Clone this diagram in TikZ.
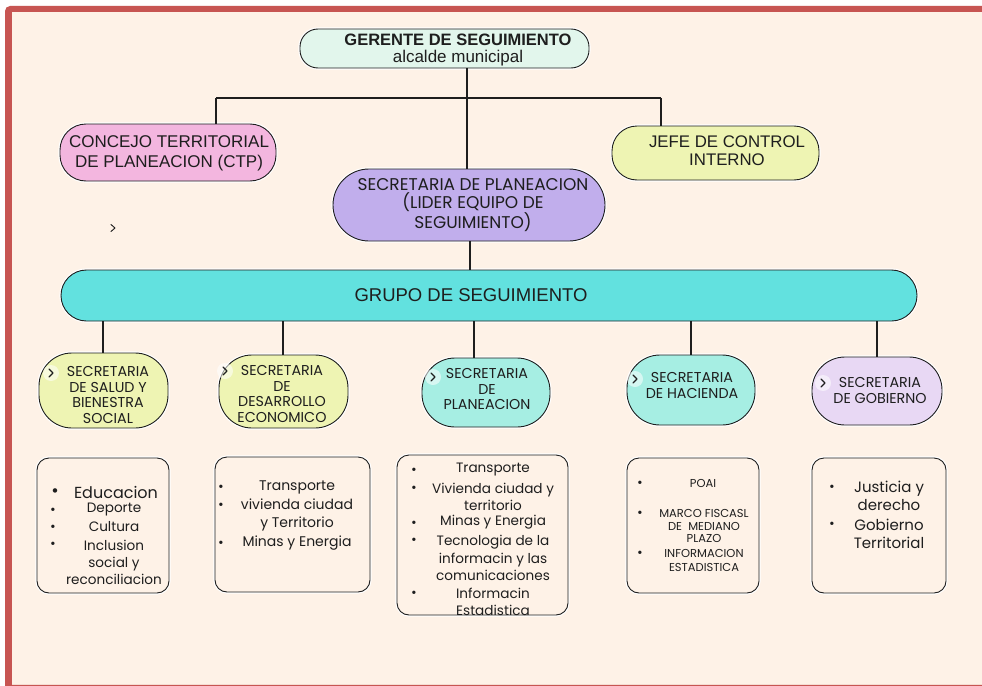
\documentclass[tikz,border=0pt]{standalone}
\usepackage{fontspec}
\setmainfont{Lato}
\newfontfamily\arialf{Liberation Sans}
\newfontfamily\popf{Poppins}
\definecolor{bgc}{HTML}{FEF2E7}
\definecolor{redc}{HTML}{C75552}
\definecolor{mint}{HTML}{E2F6EC}
\definecolor{pinkc}{HTML}{F3B6DF}
\definecolor{yelc}{HTML}{EEF4B3}
\definecolor{purc}{HTML}{C1AEEC}
\definecolor{cyanc}{HTML}{62E1DF}
\definecolor{lcyan}{HTML}{A6EEE3}
\definecolor{lavc}{HTML}{E8D8F4}
\definecolor{ink}{HTML}{1E1E1E}
\definecolor{edgec}{HTML}{F5DCD2}
\tikzset{
  box/.style={draw=ink, line width=0.9pt, rounded corners=#1, inner sep=0pt,
    preaction={draw=white, line width=3.2pt}},
  txt/.style={align=center, inner sep=0pt, text=ink},
  lt/.style={align=center, inner sep=0pt, text=ink, font=\popf\fontsize{13.6}{17.5}\selectfont},
  bu/.style={inner sep=0pt, text=ink, font=\fontsize{9}{9}\selectfont},
  chev/.style={circle, fill=white, fill opacity=0.55, minimum size=16pt, inner sep=0pt},
  chevmark/.style={draw=ink, line width=1.2pt, line cap=round, line join=round},
  conn/.style={draw=ink, line width=1.1pt},
  secfont/.style={font=\popf\fontsize{14.3}{15.6}\selectfont}
}
\begin{document}
\begin{tikzpicture}[x=1pt,y=-1pt]
\useasboundingbox (0,0) rectangle (982,685);
\fill[white] (0,0) rectangle (982,685);
\fill[redc, rounded corners=5pt] (5,6) rectangle (1000,700);
\fill[bgc] (12,12) rectangle (982,685);
\draw[edgec, line width=1pt] (12,684.5) -- (982,684.5);

% top nodes
\node[box=18pt, fill=mint, minimum width=289pt, minimum height=39pt] (ger) at (444.5,48.5) {};
\node[txt, font=\arialf\fontsize{17}{17.5}\selectfont] (gert) at (458,50) {{\bfseries\fontsize{16.5}{17.5}\selectfont GERENTE DE SEGUIMIENTO}\\alcalde municipal};

\node[box=26pt, fill=pinkc, minimum width=216pt, minimum height=57pt] (ctp) at (168,152.5) {};
\node[txt, font=\arialf\fontsize{17}{20}\selectfont] (ctpt) at (169,153) {CONCEJO TERRITORIAL\\DE PLANEACION (CTP)};

\node[box=25pt, fill=yelc, minimum width=207pt, minimum height=54pt] (jefe) at (715.5,153) {};
\node[txt, font=\arialf\fontsize{16.8}{18}\selectfont] (jefet) at (727,151) {JEFE DE CONTROL\\INTERNO};

\node[box=36pt, fill=purc, minimum width=272pt, minimum height=72pt] (lider) at (469,205) {};
\node[txt, font=\popf\fontsize{17}{18.5}\selectfont] (lidert) at (473,205) {SECRETARIA DE PLANEACION\\(LIDER EQUIPO DE\\SEGUIMIENTO)};

\coordinate (loose) at (113,228);
\draw[chevmark, line width=0.9pt] (loose) ++(-2,-3.5) -- ++(4,3.5) -- ++(-4,3.5);

\node[box=25.5pt, fill=cyanc, minimum width=856pt, minimum height=51pt] (gru) at (489,295.5) {};
\node[txt, font=\arialf\fontsize{18.5}{18.5}\selectfont] (grut) at (471,295) {GRUPO DE SEGUIMIENTO};

% secretarias
\node[box=33pt, fill=yelc, minimum width=129pt, minimum height=75pt] (sal) at (103.5,390.5) {};
\node[txt, secfont] (salt) at (108,395) {SECRETARIA\\DE SALUD Y\\BIENESTRA\\SOCIAL};
\node[chev] (salc) at (51,373) {};

\node[box=33pt, fill=yelc, minimum width=129pt, minimum height=73pt] (des) at (283.5,391.5) {};
\node[txt, secfont] (dest) at (282,394) {SECRETARIA\\DE\\DESARROLLO\\ECONOMICO};
\node[chev] (desc) at (225,371) {};

\node[box=33pt, fill=lcyan, minimum width=128pt, minimum height=69pt] (pla) at (486,392.5) {};
\node[txt, secfont] (plat) at (487,389) {SECRETARIA\\DE\\PLANEACION};
\node[chev] (plac) at (433,377) {};

\node[box=33pt, fill=lcyan, minimum width=128pt, minimum height=70pt] (hac) at (691,390) {};
\node[txt, secfont] (hact) at (692,385.5) {SECRETARIA\\DE HACIENDA};
\node[chev] (hacc) at (635,379) {};

\node[box=33pt, fill=lavc, minimum width=130pt, minimum height=68pt] (gob) at (877,391) {};
\node[txt, secfont] (gobt) at (880,390.5) {SECRETARIA\\DE GOBIERNO};
\node[chev] (gobc) at (823,383) {};

\foreach \c in {salc,desc,plac,hacc,gobc}
  \draw[chevmark] (\c.center) ++(-2,-4) -- ++(4,4) -- ++(-4,4);

% connectors
\coordinate (jt) at (467,98);
\coordinate (jl) at (216,98);
\coordinate (jr) at (661,98);
\coordinate (jg) at (470,0);
\draw[conn] (jt |- ger.south) -- (jt |- lider.north);
\draw[conn] (jl) -- (jr);
\draw[conn] (jl) -- (jl |- ctp.north);
\draw[conn] (jr) -- (jr |- jefe.north);
\draw[conn] (jg |- lider.south) -- (jg |- gru.north);
\coordinate (c1) at (103,0);
\coordinate (c2) at (283,0);
\coordinate (c3) at (474,0);
\coordinate (c4) at (691,0);
\coordinate (c5) at (877,0);
\draw[conn] (c1 |- gru.south) -- (c1 |- sal.north);
\draw[conn] (c2 |- gru.south) -- (c2 |- des.north);
\draw[conn] (c3 |- gru.south) -- (c3 |- pla.north);
\draw[conn] (c4 |- gru.south) -- (c4 |- hac.north);
\draw[conn] (c5 |- gru.south) -- (c5 |- gob.north);

% bottom boxes
\node[box=12pt, fill=bgc, minimum width=132pt, minimum height=135pt] (b1) at (103,525.5) {};
\node[box=12pt, fill=bgc, minimum width=155pt, minimum height=135pt] (b2) at (292.5,524.5) {};
\node[box=12pt, fill=bgc, minimum width=171pt, minimum height=160pt] (b3) at (482.5,535) {};
\node[box=12pt, fill=bgc, minimum width=132pt, minimum height=135pt] (b4) at (693,525.5) {};
\node[box=12pt, fill=bgc, minimum width=134pt, minimum height=135pt] (b5) at (879,525.5) {};

% box 1
\node[lt, font=\popf\fontsize{16}{17}\selectfont] (l1a) at (116,492) {Educacion};
\node[lt] (l1b) at (114,510) {Deporte};
\node[lt] (l1c) at (114,527) {Cultura};
\node[lt, font=\popf\fontsize{13.6}{17}\selectfont] (l1d) at (114,562) {Inclusion\\social y\\reconciliacion};
\node[bu, font=\fontsize{12}{12}\selectfont] (u1a) at (55,492) {•};
\node[bu] (u1b) at (53,510) {•};
\node[bu] (u1c) at (53,527) {•};
\node[bu] (u1d) at (53,544) {•};

% box 2
\node[lt, font=\popf\fontsize{14}{18.5}\selectfont] (l2a) at (297,487) {Transporte};
\node[lt, font=\popf\fontsize{14}{18.5}\selectfont] (l2b) at (297,515) {vivienda ciudad\\y Territorio};
\node[lt, font=\popf\fontsize{14}{18.5}\selectfont] (l2c) at (297,543) {Minas y Energia};
\node[bu] (u2a) at (221,487) {•};
\node[bu] (u2b) at (221,505) {•};
\node[bu] (u2c) at (221,543) {•};

% box 3
\node[lt] (l3a) at (493,470) {Transporte};
\node[lt] (l3b) at (493,497) {Vivienda ciudad y\\territorio};
\node[lt] (l3c) at (493,522.5) {Minas y Energia};
\node[lt] (l3d) at (493,558) {Tecnologia de la\\informacin y las\\comunicaciones};
\node[lt] (l3e) at (493,602) {Informacin\\Estadistica};
\node[bu] (u3a) at (414,470) {•};
\node[bu] (u3b) at (414,488) {•};
\node[bu] (u3c) at (414,523) {•};
\node[bu] (u3d) at (414,540) {•};
\node[bu] (u3e) at (414,593) {•};

% box 4
\node[lt, font=\popf\fontsize{11.5}{12.8}\selectfont] (l4a) at (703,483) {POAI};
\node[lt, font=\popf\fontsize{11.5}{12.8}\selectfont] (l4b) at (704,526) {MARCO FISCASL\\DE \ MEDIANO\\PLAZO};
\node[lt, font=\popf\fontsize{11.5}{14}\selectfont] (l4c) at (704,560) {INFORMACION\\ESTADISTICA};
\node[bu] (u4a) at (640,483) {•};
\node[bu] (u4b) at (640,513) {•};
\node[bu] (u4c) at (640,553) {•};

% box 5
\node[lt, font=\popf\fontsize{15}{18.5}\selectfont] (l5a) at (889,496) {Justicia y\\derecho};
\node[lt, font=\popf\fontsize{15}{18.5}\selectfont] (l5b) at (889,534) {Gobierno\\Territorial};
\node[bu] (u5a) at (832,487) {•};
\node[bu] (u5b) at (832,524) {•};
\end{tikzpicture}
\end{document}
